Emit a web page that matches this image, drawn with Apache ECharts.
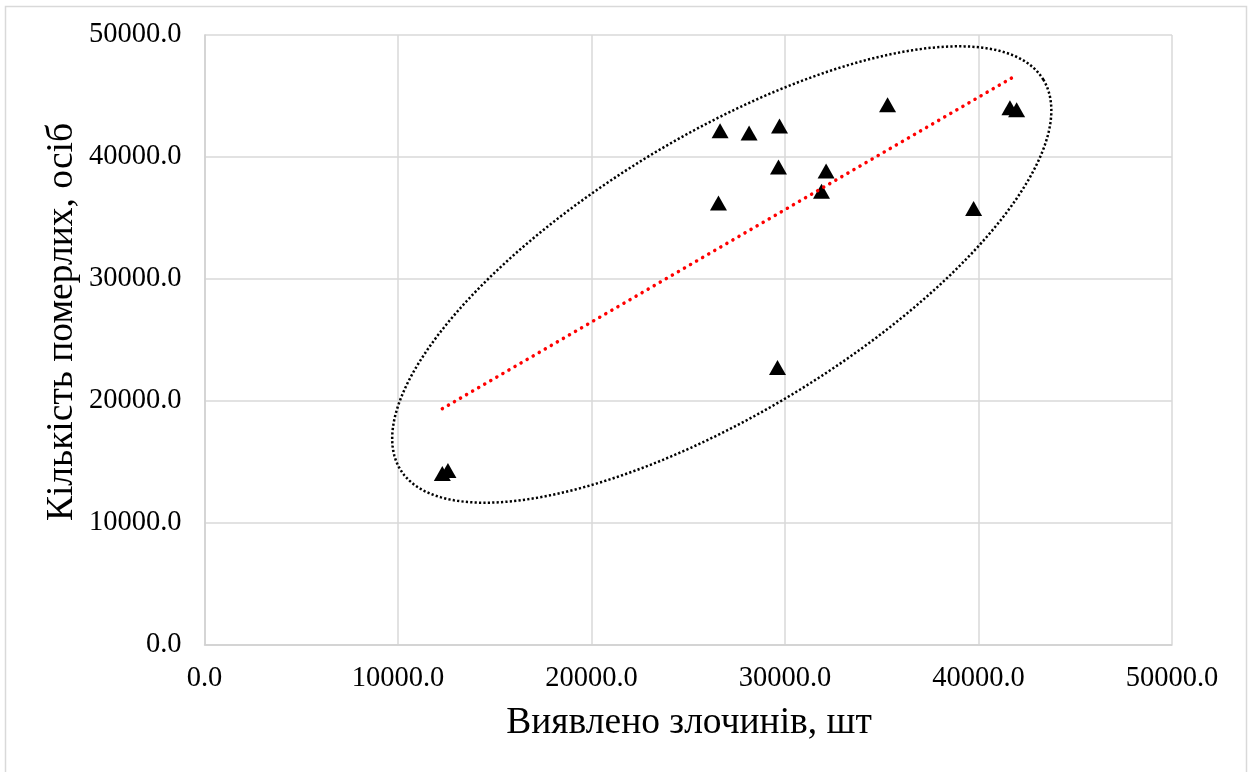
<!DOCTYPE html>
<html><head><meta charset="utf-8">
<script src="https://cdn.jsdelivr.net/npm/echarts@6/dist/echarts.min.js"></script>
<style>html,body{margin:0;padding:0;background:#fff}#c{width:1254px;height:772px}</style>
</head><body><div id="c"></div>
<script>
// Data
const crimes = [26645, 28144, 29716, 35300, 41624, 41970, 29664, 32125, 31887, 26561, 39747, 29612, 12291, 12580];
const deaths = [42152, 41956, 42529, 44280, 44034, 43871, 39174, 38846, 37185, 36228, 35769, 22725, 14026, 14272];
const trendX = [12291, 41846];
const trendY = [19345, 46596];
const xTicks = [0, 10000, 20000, 30000, 40000, 50000];
const yTicks = [0, 10000, 20000, 30000, 40000, 50000];
const xTitle = 'Виявлено злочинів, шт';
const yTitle = 'Кількість померлих, осіб';

// Annotation ellipse (centre in data units, radii in pixels, tilt in degrees)
const ellipseCenter = [26732, 30352];
const ellipseR = [376, 139];
const ellipseTilt = 31.2;

const FONT = '"Liberation Serif","Times New Roman",serif';
const chart = echarts.init(document.getElementById('c'), null, {renderer: 'canvas'});

const points = crimes.map((x, i) => [x, deaths[i]]);
const trend = trendX.map((x, i) => [x, trendY[i]]);

const axisCommon = {
  type: 'value',
  axisLine: {show: true, lineStyle: {color: '#d0d0d0', width: 1.5}},
  axisTick: {show: false},
  splitLine: {show: true, lineStyle: {color: '#d9d9d9', width: 1.5}},
  axisLabel: {color: '#000', fontFamily: FONT, fontSize: 28.5, formatter: v => v.toFixed(1)}
};

chart.setOption({
  animation: false,
  backgroundColor: '#fff',
  grid: {left: 204.5, top: 35, right: 82, bottom: 127.5, outerBoundsMode: 'none', containLabel: false},
  xAxis: Object.assign({}, axisCommon, {
    min: xTicks[0], max: xTicks[xTicks.length - 1], interval: xTicks[1] - xTicks[0],
    axisLabel: Object.assign({}, axisCommon.axisLabel, {margin: 20})
  }),
  yAxis: Object.assign({}, axisCommon, {
    min: yTicks[0], max: yTicks[yTicks.length - 1], interval: yTicks[1] - yTicks[0],
    axisLabel: Object.assign({}, axisCommon.axisLabel, {margin: 23})
  }),
  series: [
    {
      type: 'scatter', data: points, symbol: 'triangle', symbolSize: [17, 15],
      itemStyle: {color: '#000', opacity: 1}, z: 3
    },
    {
      type: 'line', data: trend, showSymbol: false, symbol: 'none', z: 4,
      lineStyle: {color: '#ff0000', width: 3.5, type: [0.1, 6.9], cap: 'round'}
    }
  ]
});

// Build ellipse + frame + titles as graphics
const c = chart.convertToPixel({gridIndex: 0}, ellipseCenter);
const th = ellipseTilt * Math.PI / 180;
const pts = [];
for (let k = 0; k < 360; k++) {
  const t = k * Math.PI / 180;
  const ex = ellipseR[0] * Math.cos(t), ey = ellipseR[1] * Math.sin(t);
  pts.push([c[0] + ex * Math.cos(th) - ey * Math.sin(th), c[1] - (ex * Math.sin(th) + ey * Math.cos(th))]);
}
chart.setOption({
  graphic: [
    {type: 'rect', shape: {x: 5.5, y: 6.5, width: 1241, height: 800}, style: {fill: 'none', stroke: '#d9d9d9', lineWidth: 1.5}, silent: true, z: 0},
    {type: 'polygon', shape: {points: pts}, style: {fill: 'none', stroke: '#000', lineWidth: 2.5, lineDash: [2.2, 2.2]}, silent: true, z: 10},
    {type: 'text', x: 689, y: 723, style: {text: xTitle, font: '37.5px ' + FONT, fill: '#000', align: 'center', verticalAlign: 'middle'}, z: 10},
    {type: 'text', x: 62, y: 322, rotation: Math.PI / 2, style: {text: yTitle, font: '37.5px ' + FONT, fill: '#000', align: 'center', verticalAlign: 'middle'}, z: 10}
  ]
});
</script>
</body></html>
